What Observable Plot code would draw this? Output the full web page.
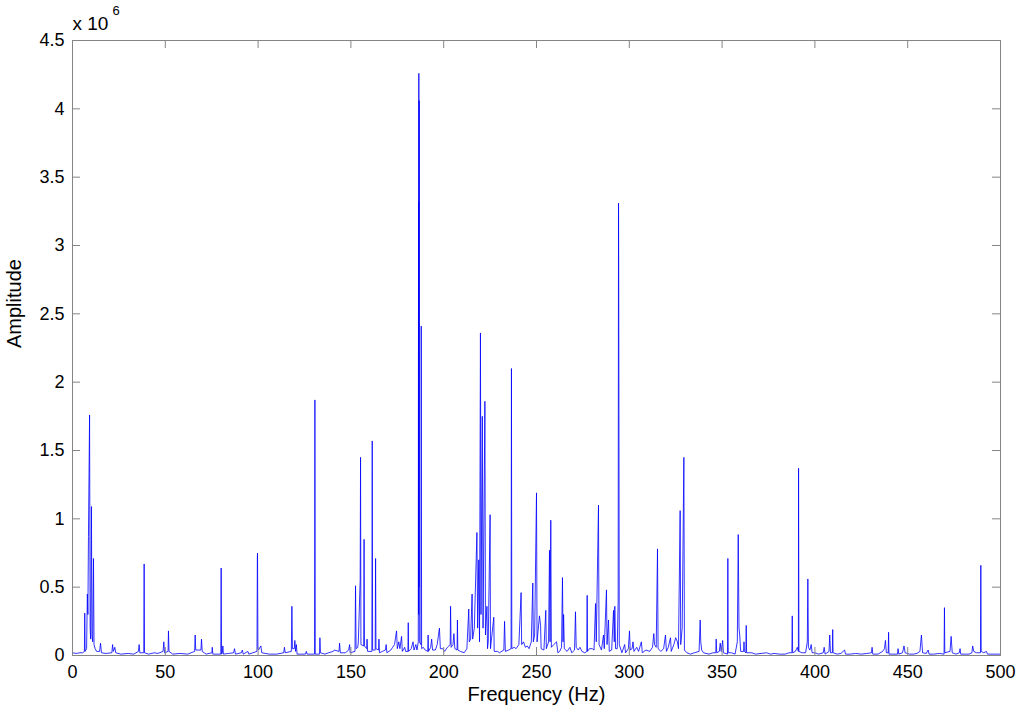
<!DOCTYPE html>
<html>
<head>
<meta charset="utf-8">
<script src="https://cdn.jsdelivr.net/npm/d3@7"></script>
<script src="https://cdn.jsdelivr.net/npm/@observablehq/plot@0.6"></script>
<style>
  html, body { margin: 0; padding: 0; background: #fff; }
  #chart { width: 1024px; height: 720px; }
</style>
</head>
<body>
<div id="chart"></div>
<script>
// Tick values
const xTicks = [0, 50, 100, 150, 200, 250, 300, 350, 400, 450, 500];
const yTicks = [0, 0.5, 1, 1.5, 2, 2.5, 3, 3.5, 4, 4.5];

// Spectrum vertices [frequency (Hz), amplitude (x 10^6)], by band
const band0to100 = [
  [0,0.02],[2,0.015],[4,0.02],[5.5,0.02],[6.4,0.03],[6.6,0.31],[6.8,0.03],[7.6,0.05],[8.0,0.45],[8.3,0.3],
  [8.6,0.87],[8.9,1.32],[9.2,1.76],[9.5,0.2],[9.8,0.12],[10.2,1.09],[10.5,0.15],[10.9,0.1],[11.3,0.71],[11.6,0.08],
  [12.2,0.05],[13,0.03],[14.6,0.03],[15.1,0.09],[15.6,0.02],[18,0.015],[21.2,0.02],[21.6,0.08],[22.0,0.03],[22.8,0.06],
  [23.3,0.02],[26,0.01],[30,0.015],[33,0.01],[35.5,0.03],[35.9,0.08],[36.3,0.02],[38.4,0.02],[38.6,0.67],[38.8,0.02],
  [41,0.01],[44,0.02],[46,0.015],[48.8,0.03],[49.2,0.1],[49.6,0.02],[51.5,0.03],[51.7,0.18],[52.0,0.03],[54,0.01],
  [58,0.015],[62,0.01],[65.8,0.03],[66.1,0.15],[66.4,0.04],[69.2,0.04],[69.5,0.12],[69.9,0.03],[72,0.01],[75.1,0.02],
  [75.3,0.06],[75.6,0.01],[79.9,0.01],[80.1,0.64],[80.3,0.01],[80.8,0.02],[81,0.07],[81.3,0.01],[84,0.015],[86.8,0.02],
  [87.3,0.05],[87.8,0.01],[91,0.02],[91.5,0.04],[92,0.01],[94.5,0.03],[95,0.01],[99.4,0.03],[99.6,0.72],[99.7,0.75],
  [99.9,0.05]
];
const band100to200 = [
  [100.2,0.04],[101.5,0.07],[102,0.02],[106,0.01],[110,0.01],[113.8,0.02],[114.2,0.06],[114.6,0.02],[117.9,0.03],[118.2,0.36],
  [118.5,0.05],[119.5,0.05],[119.8,0.11],[120.2,0.03],[120.6,0.08],[121,0.01],[125.5,0.01],[126,0.03],[126.4,0.01],[130.4,0.01],
  [130.6,1.87],[130.8,0.01],[133.1,0.01],[133.3,0.13],[133.6,0.02],[136,0.01],[138,0.02],[140.5,0.03],[141,0.04],[143.6,0.03],
  [143.9,0.09],[144.3,0.02],[147,0.02],[148.8,0.04],[149.3,0.08],[149.6,0.02],[152.2,0.03],[152.5,0.51],[152.8,0.05],[153.7,0.06],
  [154.0,0.1],[155.0,0.55],[155.2,1.45],[155.4,0.08],[156.9,0.07],[157.1,0.85],[157.3,0.07],[158.5,0.05],[158.7,0.12],[159.0,0.03],
  [161.3,0.03],[161.5,1.57],[161.7,0.04],[163.1,0.04],[163.3,0.71],[163.5,0.05],[164.9,0.04],[165.1,0.12],[165.4,0.02],[167,0.03],
  [168.6,0.04],[169.0,0.08],[169.4,0.02],[171.5,0.04],[172.5,0.06],[173.5,0.08],[174.6,0.18],[175,0.05],[175.8,0.1],[176.4,0.05],
  [177.3,0.14],[177.7,0.03],[179,0.06],[179.5,0.03],[180.7,0.03],[180.9,0.24],[181.1,0.03],[182.5,0.05],[183.5,0.1],[184,0.04],
  [185,0.08],[185.6,0.04],[186.3,0.1],[186.45,3.32],[186.5,0.3],[186.6,4.26],[186.7,0.5],[186.8,4.06],[186.9,0.1],[187.7,0.08],
  [187.9,2.41],[188.1,0.05],[189,0.06],[190,0.04],[191.4,0.03],[191.6,0.15],[191.8,0.03],[193,0.06],[193.5,0.12],[194,0.04],
  [195.5,0.04],[196.5,0.08],[197.7,0.2],[198.2,0.05],[199.5,0.05]
];
const band200to300 = [
  [200.5,0.03],[202,0.06],[203.5,0.08],[203.7,0.36],[204.0,0.06],[205.0,0.08],[205.5,0.16],[206,0.05],[207.2,0.04],[207.4,0.26],
  [207.6,0.04],[209,0.03],[211,0.02],[212.5,0.05],[213.5,0.34],[213.8,0.1],[214.5,0.12],[215.3,0.45],[215.6,0.12],[216.5,0.2],
  [217.9,0.9],[218.3,0.2],[218.9,0.7],[219.3,0.1],[219.8,2.36],[220.1,0.3],[220.8,1.75],[221.2,0.2],[222.2,1.86],[222.5,0.15],
  [223.3,0.36],[223.6,0.05],[224.0,0.1],[225.0,1.03],[225.2,0.05],[227.0,0.28],[227.2,0.03],[229,0.03],[230,0.02],[232.4,0.04],
  [232.8,0.25],[233.2,0.03],[235,0.04],[236.3,0.05],[236.5,2.1],[236.7,0.05],[238,0.06],[239,0.05],[240.5,0.08],[241.7,0.46],
  [242,0.08],[243,0.1],[244,0.06],[245,0.07],[246,0.05],[247.2,0.1],[248.0,0.53],[248.3,0.1],[249.0,0.15],[250.0,1.19],
  [250.3,0.1],[251.6,0.29],[252.2,0.22],[252.5,0.05],[254,0.04],[255.0,0.33],[255.3,0.05],[256.5,0.1],[257.0,0.77],[257.3,0.1],
  [257.7,0.99],[258,0.06],[259.3,0.08],[260.8,0.1],[261.5,0.02],[262.5,0.03],[263.5,0.06],[264.0,0.57],[264.3,0.1],[264.6,0.3],
  [265,0.05],[266.5,0.03],[268,0.06],[269,0.02],[270.5,0.04],[271.0,0.32],[271.4,0.06],[272.5,0.04],[273.4,0.06],[274.5,0.03],
  [276,0.02],[277.1,0.03],[277.3,0.44],[277.5,0.03],[278.5,0.05],[280,0.05],[281,0.04],[281.8,0.38],[282.2,0.1],[283.4,1.1],
  [283.7,0.08],[285,0.04],[286.1,0.15],[286.5,0.05],[287.7,0.48],[288,0.08],[288.8,0.26],[289.2,0.03],[290.5,0.04],[291.5,0.33],
  [291.9,0.1],[292.2,0.36],[292.6,0.05],[293.5,0.05],[294.0,0.4],[294.2,3.31],[294.3,2.82],[294.6,0.08],[296,0.02],[297.5,0.08],
  [298,0.02],[299.5,0.05]
];
const band300to400 = [
  [300.1,0.18],[300.5,0.04],[301.5,0.05],[302,0.1],[302.5,0.03],[304,0.06],[305,0.03],[306.5,0.1],[307,0.02],[309,0.04],
  [311,0.03],[312.5,0.06],[313.2,0.16],[313.6,0.08],[314.5,0.06],[315.2,0.78],[315.5,0.05],[317,0.03],[318.5,0.05],[319.5,0.15],
  [320,0.03],[321,0.06],[322.2,0.13],[322.6,0.03],[324,0.08],[325,0.13],[325.9,0.1],[326.5,0.05],[327.4,1.06],[327.7,0.08],
  [328.5,0.2],[329.4,1.45],[329.7,0.04],[331,0.02],[333,0.01],[335,0.02],[337.6,0.03],[338.2,0.26],[338.5,0.1],[339,0.04],
  [340,0.02],[343,0.01],[345,0.02],[346.6,0.02],[346.8,0.12],[347.1,0.02],[348.5,0.03],[349,0.09],[349.5,0.03],[350.3,0.11],
  [350.7,0.02],[352.9,0.01],[353.1,0.71],[353.3,0.02],[355,0.02],[357,0.01],[358.2,0.1],[358.7,0.885],[359.1,0.2],[359.5,0.15],
  [360.0,0.03],[361.6,0.03],[361.8,0.1],[362.0,0.03],[362.8,0.02],[363.0,0.22],[363.2,0.02],[366,0.02],[368,0.01],[371,0.015],
  [374,0.02],[376,0.01],[378,0.015],[381,0.01],[384,0.01],[386,0.02],[387.6,0.02],[387.8,0.29],[388.0,0.02],[389.5,0.03],
  [390.5,0.06],[391.1,0.03],[391.2,1.37],[391.4,0.03],[393,0.02],[395,0.02],[395.9,0.1],[396.2,0.56],[396.5,0.06],[397.3,0.04],
  [398,0.08],[398.5,0.02]
];
const band400to500 = [
  [400,0.02],[402,0.01],[404.5,0.02],[405,0.06],[405.5,0.01],[407.6,0.03],[408,0.15],[408.4,0.02],[409.4,0.02],[409.6,0.19],
  [409.8,0.02],[412,0.01],[414,0.015],[416,0.04],[416.5,0.01],[419,0.01],[422,0.015],[425,0.01],[428,0.015],[430.5,0.02],
  [430.8,0.06],[431.2,0.01],[434,0.01],[436.5,0.03],[437.5,0.05],[438,0.11],[438.5,0.02],[439.5,0.02],[439.7,0.17],[439.9,0.01],
  [442,0.01],[444.5,0.01],[444.8,0.05],[445.2,0.01],[447.2,0.02],[448,0.07],[448.6,0.02],[451,0.01],[453,0.01],[455,0.015],
  [456.6,0.03],[457.4,0.15],[458,0.02],[460,0.015],[461,0.04],[461.5,0.01],[464,0.01],[467,0.015],[469.6,0.01],[469.8,0.35],
  [470.0,0.02],[472.8,0.03],[473.4,0.14],[474,0.02],[476,0.01],[477.8,0.02],[478.2,0.05],[478.6,0.01],[481,0.01],[483,0.01],
  [484.6,0.02],[485,0.07],[485.6,0.03],[487,0.02],[489.2,0.02],[489.4,0.66],[489.6,0.03],[491,0.02],[492.4,0.03],[493,0.01],
  [496,0.01],[500,0.01]
];

const spectrum = [...band0to100, ...band100to200, ...band200to300, ...band300to400, ...band400to500]
  .map(([f, a]) => ({f, a}));

const font = "'Liberation Sans', Arial, Helvetica, sans-serif";
const frameColor = "#858585";

const chart = Plot.plot({
  width: 1024,
  height: 720,
  marginLeft: 72,
  marginRight: 24,
  marginTop: 40,
  marginBottom: 65,
  style: {fontFamily: font, color: "#000", background: "#fff"},
  x: {domain: [0, 500]},
  y: {domain: [0, 4.5]},
  marks: [
    Plot.line(spectrum, {x: "f", y: "a", stroke: "#0000ff", strokeWidth: 0.8}),
    Plot.frame({stroke: frameColor, strokeWidth: 1}),
    // inward ticks on all four sides
    Plot.tickX(xTicks, {stroke: frameColor, insetTop: 607}),
    Plot.tickX(xTicks, {stroke: frameColor, insetBottom: 607}),
    Plot.tickY(yTicks, {stroke: frameColor, insetRight: 920}),
    Plot.tickY(yTicks, {stroke: frameColor, insetLeft: 920}),
    Plot.axisX({ticks: xTicks, tickSize: 0, tickPadding: 10, tickFormat: d => String(d), label: null, fontSize: 18}),
    Plot.axisY({ticks: yTicks, tickSize: 0, tickPadding: 8, tickFormat: d => String(d), label: null, fontSize: 18}),
    Plot.text(["Frequency (Hz)"], {frameAnchor: "bottom", dy: 45, fontSize: 20, fill: "#000"}),
    Plot.text(["Amplitude"], {frameAnchor: "left", dx: -58, rotate: -90, fontSize: 20, fill: "#000"}),
    Plot.text(["x 10"], {frameAnchor: "top-left", textAnchor: "start", dy: -24, fontSize: 19, fill: "#000"}),
    Plot.text(["6"], {frameAnchor: "top-left", textAnchor: "start", dx: 40, dy: -35, fontSize: 13, fill: "#000"})
  ]
});

document.getElementById("chart").appendChild(chart);
</script>
</body>
</html>
